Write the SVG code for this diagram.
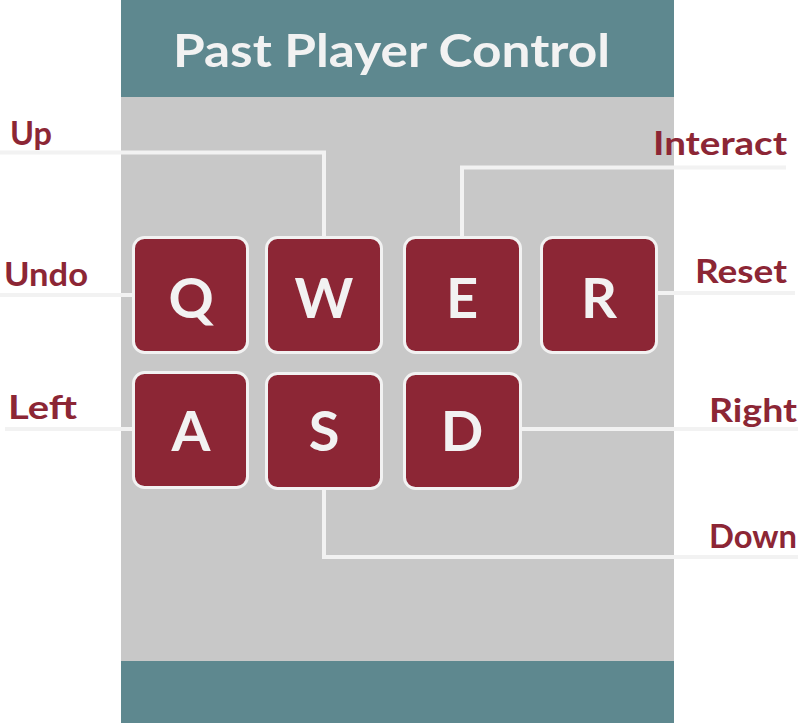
<svg xmlns="http://www.w3.org/2000/svg" width="809" height="723" viewBox="0 0 809 723">
<style>
.bg{fill:#ffffff}
.panel{fill:#c8c8c8}
.band{fill:#5e888f}
.key rect{fill:#8c2635;stroke:#f2f2f2;stroke-width:3}
.key text{font-family:"Comic Sans MS","Lato","DejaVu Sans",sans-serif;font-weight:bold;font-size:56px;fill:#f2f2f2;text-anchor:middle}
.conn path{fill:none;stroke:#f2f2f2;stroke-width:4}
.lbl{font-family:"Comic Sans MS","Lato","DejaVu Sans",sans-serif;font-weight:bold;font-size:32px;fill:#8c2635}
.title{font-family:"Comic Sans MS","Lato","DejaVu Sans",sans-serif;font-weight:bold;font-size:46px;fill:#f2f2f2}
</style>
<rect class="bg" x="0" y="0" width="809" height="723"/>
<rect class="panel" x="121" y="97" width="553" height="564"/>
<rect class="band" x="121" y="0" width="553" height="97"/>
<rect class="band" x="121" y="661" width="553" height="62"/>
<text class="title" x="173" y="67" textLength="437" lengthAdjust="spacingAndGlyphs">Past Player Control</text>
<g class="conn" id="connectors">
<path d="M0 152.5H324V237"/>
<path d="M786 167.5H462V237"/>
<path d="M0 295H133"/>
<path d="M657 293H795"/>
<path d="M5 429H133"/>
<path d="M520 429H798"/>
<path d="M324 488V557H798"/>
</g>
<g class="key" id="key-q"><rect x="133.5" y="237.5" width="114" height="115" rx="11"/><text x="191" y="318">Q</text></g>
<g class="key" id="key-w"><rect x="266.5" y="237.5" width="115" height="115" rx="11"/><text x="324" y="318">W</text></g>
<g class="key" id="key-e"><rect x="404.5" y="237.5" width="116" height="115" rx="11"/><text x="462" y="318">E</text></g>
<g class="key" id="key-r"><rect x="541.5" y="237.5" width="115" height="115" rx="11"/><text x="599" y="318">R</text></g>
<g class="key" id="key-a"><rect x="133.5" y="372.5" width="114" height="115" rx="11"/><text x="191" y="451">A</text></g>
<g class="key" id="key-s"><rect x="266.5" y="373.5" width="115" height="115" rx="11"/><text x="324" y="451">S</text></g>
<g class="key" id="key-d"><rect x="404.5" y="373.5" width="116" height="115" rx="11"/><text x="462" y="451">D</text></g>
<g id="label-up"><text class="lbl" x="10" y="145" textLength="42" lengthAdjust="spacingAndGlyphs">Up</text></g>
<g id="label-interact"><text class="lbl" x="653" y="155" textLength="134" lengthAdjust="spacingAndGlyphs">Interact</text></g>
<g id="label-undo"><text class="lbl" x="4" y="286" textLength="84" lengthAdjust="spacingAndGlyphs">Undo</text></g>
<g id="label-reset"><text class="lbl" x="695" y="283" textLength="92" lengthAdjust="spacingAndGlyphs">Reset</text></g>
<g id="label-left"><text class="lbl" x="8" y="419" textLength="69" lengthAdjust="spacingAndGlyphs">Left</text></g>
<g id="label-right"><text class="lbl" x="709" y="422" textLength="88" lengthAdjust="spacingAndGlyphs">Right</text></g>
<g id="label-down"><text class="lbl" x="709" y="548" textLength="88" lengthAdjust="spacingAndGlyphs">Down</text></g>
</svg>
